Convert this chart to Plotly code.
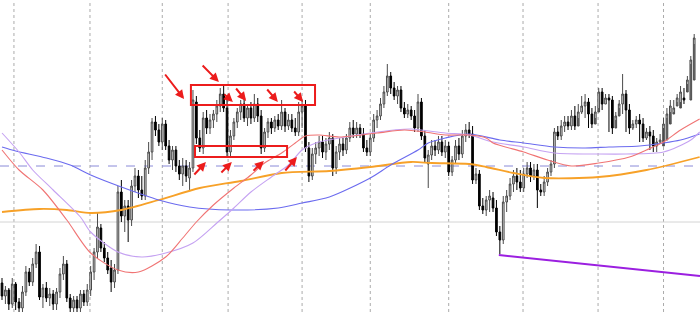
import plotly.graph_objects as go

# ---- candle data (arbitrary price units) ----
opens = [29,16,22,8,28,10,4,20,40,30,48,60,15,24,14,18,8,20,38,48,14,4,12,4,18,10,22,40,60,84,
         64,54,44,30,42,120,96,106,92,126,136,122,116,144,160,190,182,170,188,166,152,162,146,138,146,134,144,210,174,164,
         194,184,192,198,206,218,204,160,176,190,200,208,194,204,194,208,196,164,180,190,184,192,186,200,186,192,184,180,200,206,
         164,136,158,164,170,160,168,174,144,160,168,162,174,184,178,184,178,164,160,174,192,196,208,220,236,224,216,222,204,198,
         202,196,184,210,176,148,157,166,162,170,160,166,140,152,166,158,176,182,178,132,138,106,102,112,114,104,80,72,110,116,
         128,136,130,124,138,144,136,142,122,120,130,140,148,180,176,186,190,186,196,186,200,206,210,198,188,200,220,208,214,212,
         184,196,208,218,202,184,188,192,188,174,180,176,166,170,166,172,188,198,206,204,214,220,212,232,252]
highs = [34,26,24,34,30,14,26,46,44,54,68,66,28,30,24,22,24,44,56,52,18,16,16,22,22,28,46,64,99,88,
         70,60,52,48,126,132,112,112,132,144,142,136,152,170,194,196,188,194,192,172,166,166,152,154,152,150,222,216,182,200,
         202,198,202,212,224,226,212,182,194,204,212,214,208,210,218,214,202,184,194,194,196,198,212,204,198,198,194,210,212,212,
         170,164,170,176,176,174,180,178,166,174,174,178,190,192,190,188,184,172,178,198,202,214,226,248,240,230,226,226,210,208,
         206,202,218,214,182,162,172,172,176,176,172,170,156,172,174,182,188,190,186,144,142,114,116,122,120,112,86,116,122,134,
         142,144,142,144,150,150,148,148,128,136,144,152,184,186,192,196,196,202,206,208,216,218,214,204,206,224,224,218,218,216,
         200,212,238,222,208,192,196,198,194,184,186,182,174,178,194,204,212,212,218,226,224,236,256,278,280]
lows = [12,8,2,4,2,0,0,16,26,26,44,12,4,10,6,2,2,14,32,10,0,0,0,0,6,6,16,32,54,60,
        50,38,20,24,38,90,80,70,86,120,114,112,112,138,152,176,166,162,162,148,142,140,132,126,130,122,140,168,160,158,
        178,178,184,190,200,200,156,156,172,184,192,190,186,188,190,190,158,160,174,178,180,182,182,180,182,180,176,176,184,160,
        130,132,148,156,154,152,162,136,138,152,156,158,170,174,174,174,160,156,156,170,184,192,204,216,218,212,208,200,194,194,
        192,180,180,172,150,124,152,156,158,156,154,136,136,148,152,154,170,174,128,128,102,98,96,100,100,76,58,68,100,112,
        120,122,120,120,134,130,132,104,116,116,126,136,144,172,172,180,182,182,182,194,198,194,184,184,194,204,202,208,180,178,
        192,204,198,180,178,182,184,170,170,172,162,160,160,168,184,194,200,200,210,210,208,228,248,268]
closes = [16,22,8,28,10,4,20,40,30,48,60,15,24,14,18,8,20,38,48,14,4,12,4,18,10,22,40,60,85,64,
          54,42,30,42,120,96,106,92,126,136,122,116,144,160,190,182,170,188,166,152,162,146,138,146,136,144,212,174,164,194,
          184,192,198,206,218,204,160,176,190,200,208,194,204,194,208,196,164,180,190,184,192,186,200,186,192,184,180,200,206,164,
          136,158,164,170,160,168,174,144,160,168,162,174,184,178,184,178,164,160,174,192,196,208,220,236,224,216,222,204,198,202,
          196,184,210,176,154,157,166,162,170,160,166,140,152,166,158,176,182,178,132,138,106,102,112,116,104,80,72,110,116,128,
          136,130,124,138,144,136,142,122,120,130,140,148,180,176,186,190,186,196,186,200,206,210,198,188,200,220,208,214,212,184,
          196,208,218,202,184,188,192,188,174,180,176,166,170,172,188,198,206,204,214,220,212,232,252,274,270]
idx = list(range(len(closes)))

# ---- moving averages (sampled at candle indices) ----
ma_blue_x = [0,4,13,20,26,35,46,55,67,81,88,96,108,114,122,125,130,137,146,153,162,171,178,187,194,199,204.6]
ma_blue_y = [165,161,154,147,137,125,112,105,102,104,109,115,134,147,162,169,174,178,172,169,165,164,165,166,169,172,178]
ma_orange_x = [0,11,19,26,35,46,58,70,82,96,108,120,126,137,142,150,159,175,189,204.6]
ma_orange_y = [100,103,102,99,102,112,124,131,139,141,145,150,149,148,145,139,134,135,142,155]
ma_red_x = [0,5,12,19,26,34,40,48,53,57,62,68,73,77,82,86,89,93,99,110,118,124,130,137,142,144,153,160,167,175,184,189,194,199,204.6]
ma_red_y = [162,142,122,92,59,42,40,55,74,90,107,124,137,149,159,169,176,177,175,179,182,180,177,177,174,169,160,152,146,149,155,162,170,182,193]
ma_purple_x = [0,5,9,15,23,26,34,41,48,56,63,68,73,79,84,88,92,99,108,115,120,130,137,144,153,162,175,183,194,202,204.6]
ma_purple_y = [179,160,142,122,95,80,60,55,59,69,89,104,120,135,147,162,169,174,179,182,183,179,177,170,165,159,158,158,160,172,180]

# ---- drawing objects ----
separators = [3.5, 25.8, 47, 66.3, 88, 108, 131, 152.8, 174.8, 194]
dashed_level = 146
grey_level = 90
boxes = [(55.4, 91.8, 207, 227), (56.6, 83.6, 155, 166)]
arrows = [  # (tail_x, tail_y, head_x, head_y)
    (47.5, 239, 53.4, 213), (58.4, 248, 63.6, 230), (64.8, 219, 67.7, 210),
    (68.3, 225, 71.6, 211), (77.4, 224, 80.9, 210), (85.3, 222, 88.3, 210),
    (56.0, 136, 59.8, 150), (63.9, 138, 67.4, 150), (73.3, 140, 76.8, 151),
    (82.7, 140, 86.5, 155)]
trend_x = [145.7, 204.7]
trend_y = [57, 36]

fig = go.Figure()

for xs, ys, col, w in [(ma_orange_x, ma_orange_y, '#f7a128', 1.8),
                       (ma_blue_x, ma_blue_y, '#6b6bef', 1.1),
                       (ma_purple_x, ma_purple_y, '#c5a2f2', 1.1),
                       (ma_red_x, ma_red_y, '#f07474', 1.1)]:
    fig.add_trace(go.Scatter(x=xs, y=ys, mode='lines', line=dict(color=col, width=w, shape='spline', smoothing=0.8),
                             hoverinfo='skip', showlegend=False))

fig.add_trace(go.Candlestick(
    x=idx, open=opens, high=highs, low=lows, close=closes,
    increasing=dict(fillcolor='#d8d8d8', line=dict(color='#4a4a4a', width=1)),
    decreasing=dict(fillcolor='#000000', line=dict(color='#000000', width=1)),
    whiskerwidth=0, showlegend=False))

fig.add_trace(go.Scatter(x=trend_x, y=trend_y, mode='lines', line=dict(color='#9b1fe0', width=2),
                         hoverinfo='skip', showlegend=False))

shapes = []
for s in separators:
    shapes.append(dict(type='line', xref='x', yref='paper', x0=s, x1=s, y0=0, y1=1,
                       line=dict(color='#ababab', width=1, dash='dot'), layer='below'))
shapes.append(dict(type='line', xref='paper', yref='y', x0=0, x1=1, y0=grey_level, y1=grey_level,
                   line=dict(color='#d4d4d4', width=1), layer='below'))
shapes.append(dict(type='line', xref='paper', yref='y', x0=0, x1=1, y0=dashed_level, y1=dashed_level,
                   line=dict(color='#8a8ad8', width=1, dash='dash'), layer='below'))
for x0, x1, y0, y1 in boxes:
    shapes.append(dict(type='rect', xref='x', yref='y', x0=x0, x1=x1, y0=y0, y1=y1,
                       line=dict(color='#ec1c1c', width=2), fillcolor='rgba(0,0,0,0)'))

annotations = []
for tx, ty, hx, hy in arrows:
    annotations.append(dict(x=hx, y=hy, ax=tx, ay=ty, xref='x', yref='y', axref='x', ayref='y',
                            showarrow=True, arrowhead=2, arrowsize=0.9, arrowwidth=2,
                            arrowcolor='#ec1c1c', text=''))

fig.update_layout(
    width=700, height=312, margin=dict(l=0, r=0, t=0, b=0),
    paper_bgcolor='white', plot_bgcolor='white',
    shapes=shapes, annotations=annotations, showlegend=False,
    xaxis=dict(range=[-0.59, 204.7], visible=False, rangeslider=dict(visible=False), fixedrange=True),
    yaxis=dict(range=[0, 312], visible=False, fixedrange=True),
)

fig.write_html("out.html")
